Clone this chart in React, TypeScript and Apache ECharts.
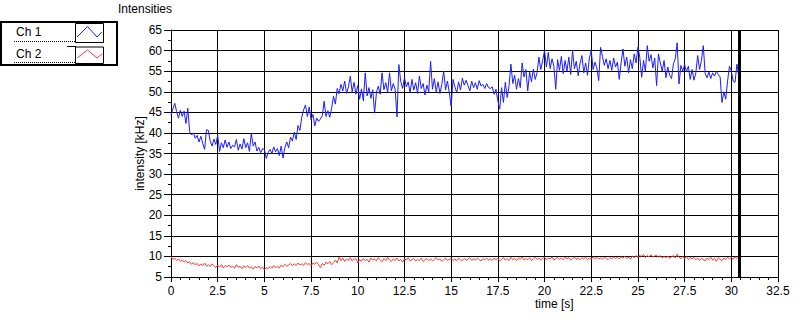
import React, { useEffect, useRef } from "react";
import * as echarts from "echarts";

const DT = 0.1; // sampling interval [s]
const CURSOR_T = 30.45;

const xTicks = { min: 0, max: 32.5, interval: 2.5 };
const yTicks = { min: 5, max: 65, interval: 5 };

const legendNames = ["Ch 1", "Ch 2"];
const seriesColors = ["#1c1cff", "#ff3a3a"];

const ch1: number[] = [
  44.3, 45.8, 47.2, 45.2, 43.6, 45.5, 44.0, 45.3, 42.3, 46.0,
  40.3, 39.5, 40.0, 38.7, 39.4, 37.8, 39.2, 37.4, 36.0, 40.8,
  40.6, 38.0, 36.8, 38.5, 37.2, 39.4, 35.5, 37.6, 36.4, 38.3,
  36.5, 37.8, 36.2, 37.0, 36.6, 38.4, 35.8, 37.3, 36.1, 38.6,
  36.4, 37.6, 35.5, 40.0, 36.8, 37.8, 35.6, 36.5, 35.2, 36.2,
  36.0, 33.8, 35.2, 36.0, 35.0, 36.6, 35.4, 36.2, 34.5, 36.8,
  33.9, 36.5, 37.8, 36.4, 39.0, 38.0, 40.2, 38.4, 41.8, 40.6,
  43.8, 45.6, 46.8, 44.0, 46.3, 43.2, 44.5, 41.7, 43.6, 42.8,
  43.4, 44.2, 47.7, 44.0, 45.4, 43.8, 46.0, 48.9, 47.0, 50.8,
  49.5, 51.8, 50.2, 52.6, 49.6, 51.2, 53.8, 50.0, 52.3, 49.4,
  51.5, 48.2, 50.7, 47.8, 54.6, 49.0, 51.0, 48.4, 50.5, 44.8,
  49.8, 51.4, 49.4, 54.6, 50.5, 52.2, 49.8, 54.6, 50.2, 52.0,
  50.6, 43.9, 56.6, 52.5, 50.8, 53.4, 51.2, 52.4, 49.8, 53.0,
  50.4, 52.2, 49.6, 53.8, 50.8, 52.0, 49.2, 51.6, 50.0, 57.4,
  50.6, 53.2, 50.0, 52.4, 49.6, 51.8, 55.0, 50.4, 52.6, 49.8,
  46.5, 53.0, 51.2, 49.8, 52.4, 50.4, 53.3, 51.6, 52.8, 51.5,
  50.2, 52.6, 51.0, 52.2, 50.6, 52.7, 51.4, 51.8, 50.8, 52.0,
  51.0, 50.8, 51.2, 49.4, 50.6, 47.8, 45.8, 51.0, 47.4, 52.3,
  48.6, 51.5, 56.7, 52.0, 54.0, 50.6, 53.2, 51.0, 57.0, 53.6,
  55.4, 50.2, 54.8, 52.4, 55.5, 53.0, 54.6, 58.4, 55.4, 57.6,
  60.0, 56.0, 59.6, 55.6, 58.0, 56.2, 50.6, 57.8, 55.2, 58.6,
  54.4, 57.6, 55.0, 58.4, 54.2, 60.0, 55.6, 57.4, 53.9, 56.8,
  58.8, 54.6, 57.0, 54.0, 58.2, 60.0, 55.4, 57.2, 55.8, 52.7,
  60.8, 58.6, 56.4, 58.0, 55.6, 57.6, 55.2, 58.2, 56.0, 57.2,
  53.0, 57.0, 60.4, 56.2, 58.4, 54.6, 57.8, 55.6, 59.2, 57.0,
  60.8, 58.4, 53.5, 57.6, 55.0, 61.2, 57.4, 59.0, 55.8, 58.2,
  51.5, 59.2, 57.0, 55.0, 57.6, 53.4, 56.0, 54.0, 53.2, 56.8,
  58.0, 61.9, 51.9, 56.4, 55.0, 56.6, 54.8, 56.2, 53.0, 55.4,
  52.8, 54.6, 58.8, 55.4, 57.6, 61.2, 54.4, 53.4, 54.8, 53.2,
  54.6, 53.8, 55.0, 54.2, 53.6, 47.4, 50.0, 48.2, 52.6, 56.2,
  55.0, 52.6, 52.3, 56.7, 53.9,
];

const ch2: number[] = [
  9.9, 9.3, 9.6, 9.0, 9.4, 8.8, 9.2, 8.6, 9.0, 8.4,
  8.7, 8.1, 8.5, 7.9, 8.3, 7.7, 8.2, 7.8, 8.4, 7.6,
  8.0, 7.5, 8.2, 7.7, 7.3, 7.9, 7.4, 8.0, 7.2, 7.8,
  7.5, 7.9, 7.3, 7.7, 7.1, 8.0, 7.4, 7.6, 7.0, 7.7,
  7.3, 7.8, 7.2, 7.5, 6.9, 7.6, 7.2, 7.7, 7.0, 7.4,
  6.8, 7.3, 7.0, 7.6, 7.1, 7.8, 7.3, 7.6, 7.2, 7.9,
  7.5, 8.1, 7.6, 7.9, 8.3, 7.7, 8.2, 7.8, 8.4, 7.9,
  8.2, 7.8, 8.5, 8.0, 8.3, 7.7, 8.4, 8.1, 8.6, 8.0,
  7.3, 8.3, 7.9, 8.6, 8.2, 8.8, 8.0, 8.5, 9.1, 8.4,
  9.9, 9.0, 9.6, 8.8, 9.4, 9.0, 9.7, 8.9, 9.3, 9.5,
  8.4, 9.2, 8.8, 9.5, 9.0, 9.3, 8.6, 9.6, 9.1, 9.4,
  8.9, 9.7, 9.2, 8.7, 9.5, 9.0, 9.8, 9.1, 8.8, 9.4,
  9.0, 9.6, 8.9, 9.3, 8.6, 9.4, 9.1, 9.7, 8.9, 9.2,
  9.5, 8.9, 9.3, 9.0, 9.6, 8.8, 9.2, 9.5, 9.0, 9.4,
  8.9, 9.3, 9.7, 9.1, 9.4, 8.8, 9.2, 9.6, 9.0, 9.3,
  9.5, 9.0, 9.4, 8.9, 9.6, 9.2, 9.0, 9.5, 9.1, 9.3,
  9.7, 9.0, 9.4, 9.1, 9.6, 9.2, 8.9, 9.5, 9.2, 9.6,
  9.1, 9.4, 9.0, 9.6, 9.2, 9.5, 8.9, 9.3, 9.7, 9.1,
  9.4, 9.0, 9.8, 9.2, 9.5, 9.0, 9.6, 9.3, 9.9, 9.1,
  9.5, 9.2, 9.7, 9.0, 9.4, 9.8, 9.3, 9.6, 9.1, 9.5,
  9.8, 9.2, 9.6, 9.4, 9.9, 9.1, 9.5, 9.7, 9.3, 9.6,
  9.2, 9.8, 9.4, 9.7, 9.1, 9.5, 9.9, 9.3, 9.6, 9.2,
  9.7, 9.4, 9.8, 9.2, 9.6, 9.3, 9.9, 9.5, 9.7, 9.4,
  9.6, 9.3, 9.8, 9.5, 9.2, 9.7, 9.4, 9.9, 9.5, 9.8,
  9.4, 9.9, 9.6, 10.0, 9.5, 9.8, 9.3, 10.1, 9.7, 10.2,
  9.8, 10.3, 9.9, 10.5, 9.7, 10.2, 9.9, 10.4, 9.8, 10.1,
  10.3, 9.8, 10.2, 9.6, 10.0, 9.7, 10.1, 9.5, 9.9, 10.2,
  9.6, 10.6, 9.8, 9.4, 10.0, 9.5, 9.9, 9.3, 9.7, 9.4,
  9.8, 9.2, 9.6, 9.0, 9.5, 9.3, 8.9, 9.6, 9.2, 9.8,
  9.1, 9.5, 8.8, 9.7, 9.3, 9.0, 9.6, 9.2, 9.8, 9.4,
  9.7, 9.3, 9.9, 9.5, 9.8,
];

const FONT = "Liberation Sans";

function legendGraphics() {
  const els: any[] = [];
  els.push({
    type: "rect",
    shape: { x: 1, y: 22, width: 116, height: 43 },
    style: { fill: "#fff", stroke: "#000", lineWidth: 2 },
  });
  const rows = [
    { top: 23, h: 19 },
    { top: 46.5, h: 16.5 },
  ];
  rows.forEach((r, i) => {
    els.push({
      type: "text",
      x: 16,
      y: r.top + r.h / 2 - 1,
      style: {
        text: legendNames[i],
        fill: "#000",
        font: `12px "${FONT}"`,
        verticalAlign: "middle",
        align: "left",
      },
    });
    els.push({
      type: "line",
      shape: { x1: 14, y1: r.top + r.h - 0.5, x2: 75, y2: r.top + r.h - 0.5 },
      style: { stroke: "#000", lineWidth: 1, lineDash: [1, 1] },
    });
    els.push({
      type: "rect",
      shape: { x: 75.5, y: r.top + 0.5, width: 28, height: r.h },
      style: { fill: "#fff", stroke: "#000", lineWidth: 1 },
    });
    const y0 = r.top + 3.5;
    const y1 = r.top + r.h - 5;
    els.push({
      type: "polyline",
      shape: {
        points: [
          [77, y1],
          [87.5, y0],
          [97, y1],
          [102, (y0 + y1) / 2],
        ],
      },
      style: { stroke: seriesColors[i], lineWidth: 1, fill: "none" },
    });
  });
  els.push({
    type: "line",
    shape: { x1: 67, y1: 46.5, x2: 76, y2: 46.5 },
    style: { stroke: "#000", lineWidth: 1 },
  });
  return els;
}

export default function App() {
  const ref = useRef<HTMLDivElement>(null);
  useEffect(() => {
    document.body.style.margin = "0";
    if (!ref.current) return;
    const chart = echarts.init(ref.current, undefined, { renderer: "svg" });
    const d1 = ch1.map((v, i) => [+(i * DT).toFixed(2), v]);
    const d2 = ch2.map((v, i) => [+(i * DT).toFixed(2), v]);
    const labelStyle = { color: "#000", fontFamily: FONT, fontSize: 12 };
    chart.setOption({
      animation: false,
      backgroundColor: "#fff",
      grid: { left: 171, right: 24, top: 30, bottom: 43, containLabel: false },
      xAxis: {
        type: "value",
        min: xTicks.min,
        max: xTicks.max,
        interval: xTicks.interval,
        axisLine: { show: true, onZero: false, lineStyle: { color: "#000", width: 1 } },
        axisTick: { show: true, length: 5, lineStyle: { color: "#000" } },
        minorTick: { show: true, splitNumber: 5, length: 3, lineStyle: { color: "#000" } },
        splitLine: { show: true, lineStyle: { color: "#000", width: 1 } },
        axisLabel: { ...labelStyle, margin: 8 },
      },
      yAxis: {
        type: "value",
        min: yTicks.min,
        max: yTicks.max,
        interval: yTicks.interval,
        name: "intensity [kHz]",
        nameLocation: "middle",
        nameGap: 25,
        nameMoveOverlap: false,
        nameTextStyle: { ...labelStyle },
        axisLine: { show: true, lineStyle: { color: "#000", width: 1 } },
        axisTick: { show: true, length: 7, lineStyle: { color: "#000" } },
        minorTick: { show: true, splitNumber: 2, length: 3, lineStyle: { color: "#000" } },
        splitLine: { show: true, lineStyle: { color: "#000", width: 1 } },
        axisLabel: { ...labelStyle, margin: 9 },
      },
      graphic: [
        {
          type: "text",
          left: 118,
          top: 3,
          style: { text: "Intensities", fill: "#000", font: `12px "${FONT}"` },
        },
        {
          type: "text",
          left: 535,
          top: 298,
          style: { text: "time [s]", fill: "#000", font: `12px "${FONT}"` },
        },
        ...legendGraphics(),
      ],
      series: [
        {
          name: legendNames[1],
          type: "line",
          data: d2,
          symbol: "none",
          lineStyle: { color: seriesColors[1], width: 1 },
          z: 3,
        },
        {
          name: legendNames[0],
          type: "line",
          data: d1,
          symbol: "none",
          lineStyle: { color: seriesColors[0], width: 1 },
          z: 4,
          markLine: {
            symbol: "none",
            silent: true,
            label: { show: false },
            lineStyle: { color: "#000", width: 3, type: "solid" },
            data: [{ xAxis: CURSOR_T }],
          },
        },
      ],
    });
    return () => chart.dispose();
  }, []);
  return <div ref={ref} style={{ width: 802, height: 320 }} />;
}
